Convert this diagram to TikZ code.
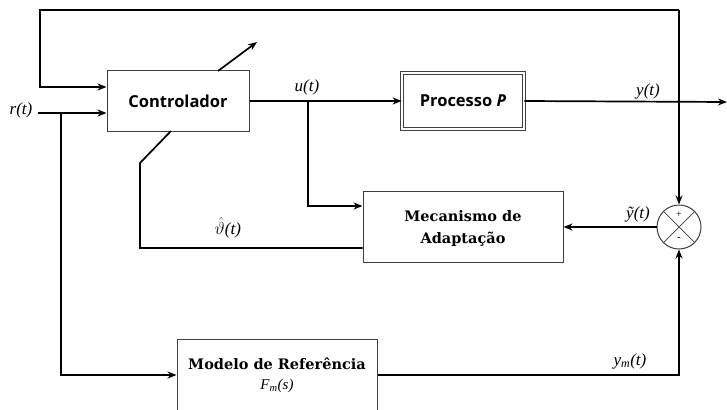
\documentclass[tikz,border=0pt]{standalone}
\usepackage{fontspec}
\setmainfont{Liberation Serif}
\newfontfamily\boxsans{Open Sans}
\newfontfamily\boxserif{DejaVu Serif}
\newcommand\mecfont{\boxserif\bfseries\fontsize{14.5}{23}\selectfont}
\usetikzlibrary{arrows.meta}
\begin{document}
\begin{tikzpicture}[x=1pt,y=-1pt,
  line/.style={line width=1.7pt},
  arr/.style={line width=1.7pt,-{Stealth[length=9pt,width=7pt]}},
  blk/.style={draw=black!75,line width=1pt,fill=white,inner sep=0pt},
  sansbold/.style={font=\boxsans\bfseries\fontsize{16.5}{18}\selectfont},
  lbl/.style={font=\fontsize{17}{19}\selectfont\itshape,inner sep=0pt}]
\clip (0,0) rectangle (727,409);
% coordinates
\coordinate (rin) at (38,113);
\coordinate (rbr) at (61,113);
\coordinate (mdl) at (61,375);
\coordinate (tl) at (40,10);
\coordinate (tr) at (679,10);
\coordinate (fb) at (40,87);
\coordinate (ubr) at (308,101);
\coordinate (ud) at (308,206);
\coordinate (yend) at (727,102);
\coordinate (ymc) at (679,375);
\coordinate (th1) at (140,248);
\coordinate (th2) at (140,163);
\coordinate (th3) at (171,131);
\coordinate (a1) at (218,71);
\coordinate (a2) at (257,42);
% blocks
\node[blk,sansbold,minimum width=142pt,minimum height=60pt] (ctrl) at (178,101) {Controlador};
\node[blk,sansbold,double,double distance=2.2pt,line width=0.8pt,minimum width=122pt,minimum height=56pt] (proc) at (463,101) {Processo \textit{P}};
\node[blk,minimum width=200pt,minimum height=71pt] (mec) at (463,227) {};
\node[inner sep=0pt] (mec1) at (463,216) {\mecfont Mecanismo de};
\node[inner sep=0pt] (mec2) at (463,239) {\mecfont Adaptação};
\node[blk,minimum width=200pt,minimum height=90pt,anchor=north] (modelo) at (277,339) {};
\node[inner sep=0pt] (modtxt) at (277,364) {\mecfont Modelo de Referência};
\node[lbl,font=\fontsize{15}{17}\selectfont\itshape] (fm) at (277,386) {F\textsubscript{m}(s)};
\node[draw=black!75,circle,line width=1pt,fill=white,inner sep=0pt,minimum size=44pt] (sum) at (679,227) {};
\draw[line width=0.7pt,black!75] (sum.north east) -- (sum.south west) (sum.north west) -- (sum.south east);
\node[font=\fontsize{10}{10}\selectfont,inner sep=0pt] (plus) at (679,215) {+};
\node[font=\fontsize{11}{11}\selectfont,inner sep=0pt] (minus) at (679,239) {-};
% connectors
\draw[arr] (rin) -- (ctrl.west |- rin);
\draw[arr] (rbr) -- (mdl) -- (modelo.west |- mdl);
\draw[arr] (tr) -- (sum.north);
\draw[arr] (tr) -- (tl) -- (fb) -- (ctrl.west |- fb);
\draw[arr] (ctrl.east) -- (proc.west);
\draw[arr] (ubr) -- (ud) -- (mec.west |- ud);
\draw[arr] (proc.east) -- (yend);
\draw[arr] (sum.west) -- (mec.east);
\draw[arr] (modelo.east |- ymc) -- (ymc) -- (sum.south);
\draw[line] (mec.west |- th1) -- (th1) -- (th2) -- (th3);
\draw[arr] (a1) -- (a2);
% labels
\node[lbl] (lr) at (21,110) {r(t)};
\node[lbl] (lu) at (307,87) {u(t)};
\node[lbl] (ly) at (648,91) {y(t)};
\node[lbl] (lyt) at (638,214) {ỹ(t)};
\node[lbl] (lth) at (228,228) {$\hat{\vartheta}$(t)};
\node[lbl] (lym) at (630,361) {y\textsubscript{m}(t)};
\end{tikzpicture}
\end{document}
